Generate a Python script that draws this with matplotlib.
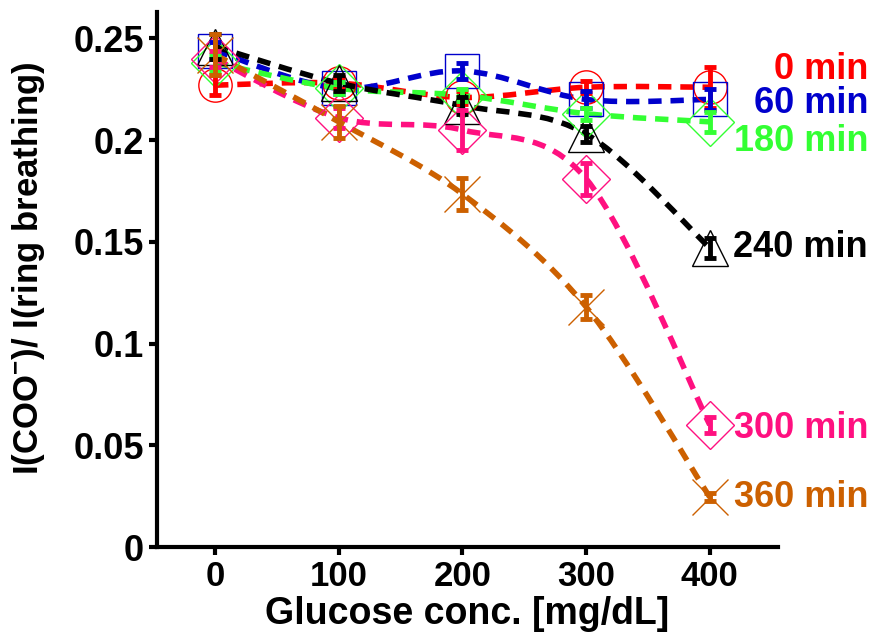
import matplotlib
matplotlib.use('Agg')
import matplotlib.pyplot as plt
from matplotlib.path import Path
from matplotlib.patches import PathPatch

plt.rcParams['font.family'] = ['Liberation Sans', 'DejaVu Sans']
plt.rcParams['font.weight'] = 'bold'
plt.rcParams['mathtext.fontset'] = 'custom'
plt.rcParams['mathtext.rm'] = 'Liberation Sans:bold'
plt.rcParams['mathtext.default'] = 'rm'

# glucose concentrations
glucose = [0, 100, 200, 300, 400]

# intensity ratio for each incubation time, with error bars
min0 = [0.227, 0.228, 0.221, 0.226, 0.226]
min0_err = [0.005, 0.003, 0.003, 0.003, 0.010]
min60 = [0.244, 0.2255, 0.234, 0.220, 0.220]
min60_err = [0.004, 0.003, 0.004, 0.004, 0.005]
min180 = [0.238, 0.2255, 0.222, 0.213, 0.209]
min180_err = [0.004, 0.003, 0.003, 0.003, 0.005]
min240 = [0.246, 0.228, 0.217, 0.203, 0.147]
min240_err = [0.006, 0.004, 0.004, 0.004, 0.005]
min300 = [0.240, 0.211, 0.205, 0.181, 0.060]
min300_err = [0.004, 0.005, 0.010, 0.008, 0.004]
min360 = [0.242, 0.209, 0.1735, 0.118, 0.0245]
min360_err = [0.010, 0.008, 0.008, 0.006, 0.002]

labels = ['0 min', '60 min', '180 min', '240 min', '300 min', '360 min']
label_y = [0.2348, 0.218, 0.1995, 0.147, 0.0583, 0.0245]

y_ticks = [0, 0.05, 0.1, 0.15, 0.2, 0.25]
y_ticklabels = ['0', '0.05', '0.1', '0.15', '0.2', '0.25']

series = [
    (min0, min0_err, '#ff0000', 'o'),
    (min60, min60_err, '#0000cc', 's'),
    (min180, min180_err, '#33ff33', 'D'),
    (min240, min240_err, '#000000', '^'),
    (min300, min300_err, '#ff1080', 'D'),
    (min360, min360_err, '#cc6000', 'x'),
]


def smooth_path(xs, ys):
    # Catmull-Rom curve through the points, written as cubic bezier segments
    pts = list(zip(xs, ys))
    verts = [pts[0]]
    codes = [Path.MOVETO]
    n = len(pts)
    for i in range(n - 1):
        p0 = pts[i - 1] if i > 0 else pts[i]
        p1 = pts[i]
        p2 = pts[i + 1]
        p3 = pts[i + 2] if i + 2 < n else pts[i + 1]
        c1 = (p1[0] + (p2[0] - p0[0]) / 6, p1[1] + (p2[1] - p0[1]) / 6)
        c2 = (p2[0] - (p3[0] - p1[0]) / 6, p2[1] - (p3[1] - p1[1]) / 6)
        verts += [c1, c2, p2]
        codes += [Path.CURVE4] * 3
    return Path(verts, codes)


fig = plt.figure(figsize=(8.72, 6.4), dpi=100)
ax = fig.add_axes([0.180, 0.1453, 0.712, 0.836])

for vals, err, col, mk in series:
    ax.add_patch(PathPatch(smooth_path(glucose, vals), facecolor='none', edgecolor=col,
                           lw=4, linestyle=(0, (2.4, 1.6)), zorder=2))
    if mk == 'x':
        ax.plot(glucose, vals, linestyle='none', marker=mk, ms=26, mew=1.0, color=col, zorder=3)
    else:
        ax.plot(glucose, vals, linestyle='none', marker=mk, ms=24 if mk != '^' else 26,
                mfc='none', mec=col, mew=1.0, zorder=3)
    ax.errorbar(glucose, vals, yerr=err, fmt='none', ecolor=col, elinewidth=3.5,
                capsize=4.5, capthick=3.5, zorder=4)

for (vals, err, col, mk), lab, ly in zip(series, labels, label_y):
    ax.text(528, ly, lab, color=col, fontsize=26, fontweight='bold', ha='right',
            va='center', clip_on=False)

ax.set_xlim(-47, 455)
ax.set_ylim(0, 0.263)
ax.set_xticks(glucose)
ax.set_xticklabels([str(g) for g in glucose], fontsize=25, fontweight='bold')
ax.set_yticks(y_ticks)
ax.set_yticklabels(y_ticklabels, fontsize=26, fontweight='bold')
ax.tick_params(width=3, length=6, direction='out')
ax.spines['right'].set_visible(False)
ax.spines['top'].set_visible(False)
ax.spines['left'].set_linewidth(3)
ax.spines['bottom'].set_linewidth(3)

ax.set_xlabel('Glucose conc. [mg/dL]', fontsize=27, fontweight='bold', labelpad=2)
ax.set_ylabel(r'I(COO$^{-}$)/ I(ring breathing)', fontsize=25, fontweight='bold')
ax.yaxis.set_label_coords(-0.177, 0.521)

fig.savefig('out.png', dpi=100)
